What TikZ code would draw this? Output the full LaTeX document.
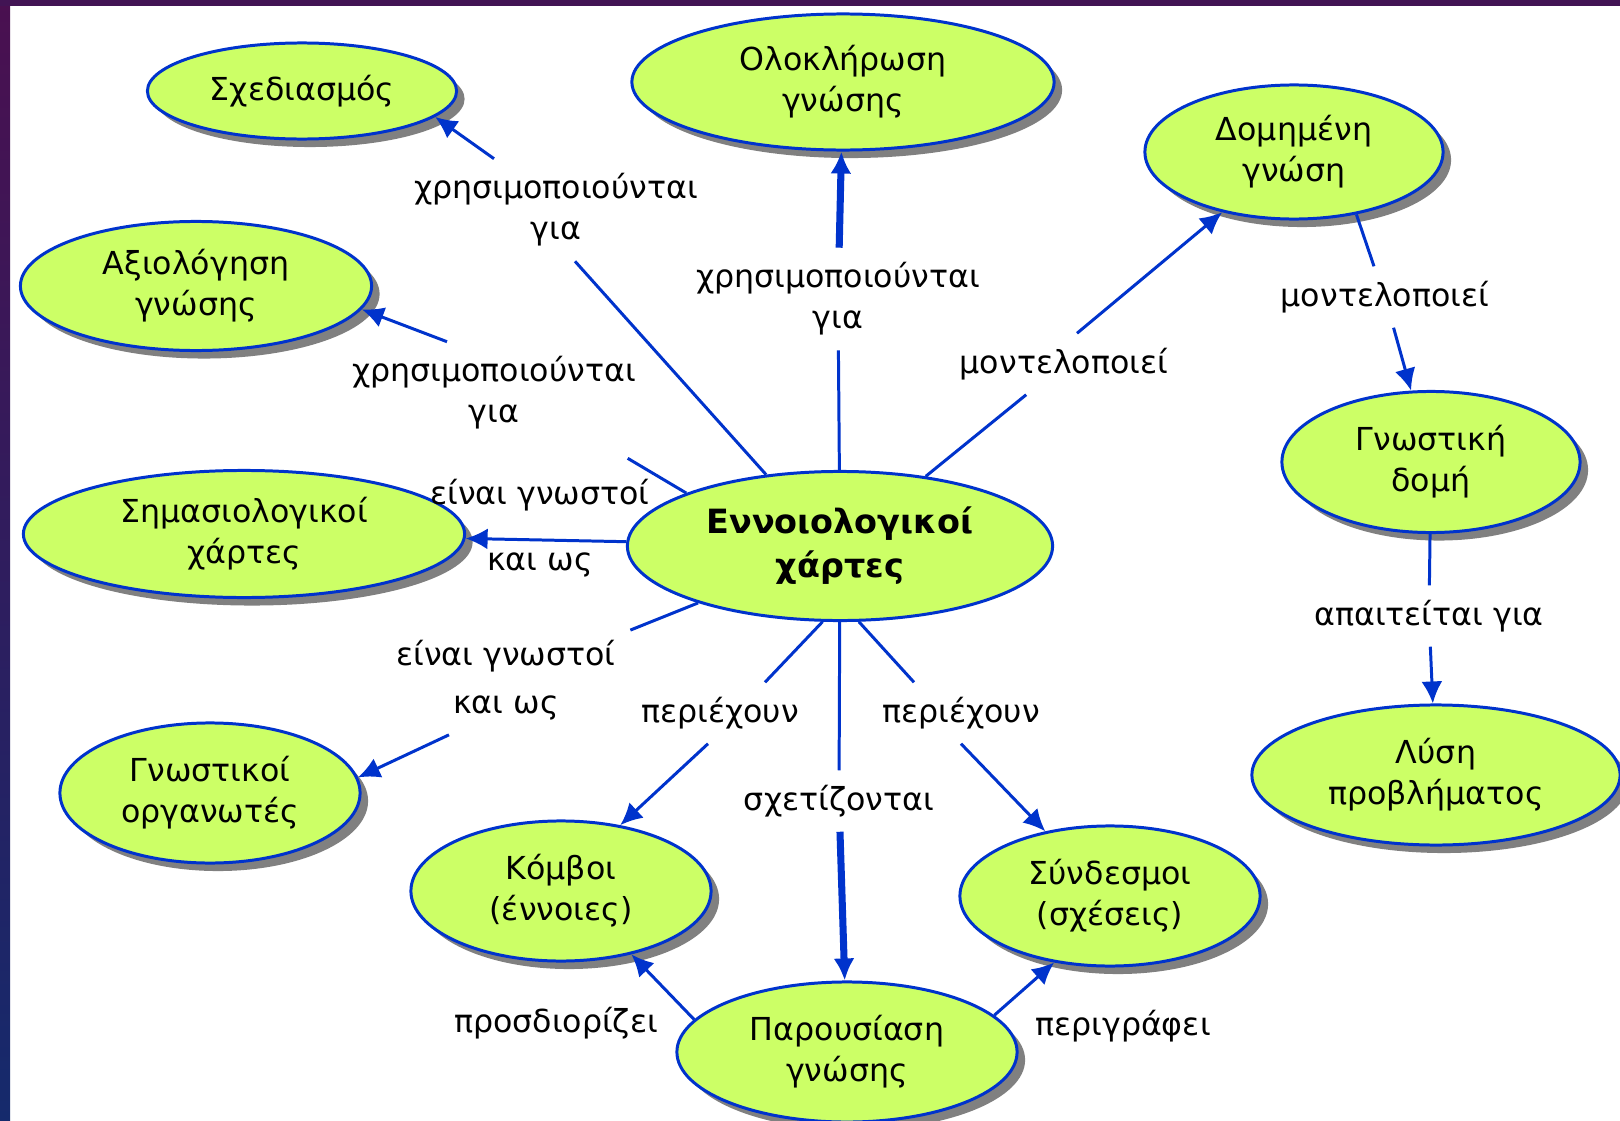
\documentclass[tikz,border=0pt]{standalone}
\usepackage{fontspec}
\setmainfont{DejaVu Sans}
\usepackage{tikz}
\usetikzlibrary{shapes.geometric, arrows.meta, shadows, calc}

\definecolor{mapgreen}{HTML}{CCFF66}
\definecolor{mapblue}{HTML}{0033CC}
\definecolor{mapshadow}{HTML}{808080}
\definecolor{framepurple}{HTML}{4A1050}
\definecolor{framenavy}{HTML}{152A6C}

\begin{document}
\begin{tikzpicture}[x=0.01cm, y=-0.01cm,
	line/.style = {draw=mapblue, line width=0.85pt},
	arrow/.style = {line, -{Latex[length=0.22cm, width=0.21cm]}},
	thickarrow/.style = {arrow, line width=2pt}]
	\tikzset{bubble/.style={ellipse, draw=mapblue, line width=0.85pt, fill=mapgreen, align=center, inner sep=0pt, font=\fontsize{9}{11.7}\selectfont}}
	\tikzset{concept/.style={bubble, drop shadow={shadow xshift=0.08cm, shadow yshift=-0.08cm, fill=mapshadow, opacity=1}}}
	\tikzset{link/.style={align=center, inner sep=4pt, font=\fontsize{9}{11.7}\selectfont}}

	% frame
	\useasboundingbox (0,0) rectangle (1620,1121);
	\fill[white] (0,0) rectangle (1620,1121);
	\shade[top color=framepurple, bottom color=framenavy] (0,0) rectangle (10,1121);
	\fill[framepurple!85!framenavy] (0,0) rectangle (1620,6);

	% concepts
	\node[bubble, minimum width=4.25cm, minimum height=1.49cm, font=\fontsize{9.5}{12.5}\selectfont\bfseries] (cmaps) at (840,546) {Εννοιολογικοί\\χάρτες};

	\node[concept, minimum width=3.09cm, minimum height=0.96cm] (design) at (302,91) {Σχεδιασμός};
	\node[concept, minimum width=4.22cm, minimum height=1.36cm] (integration) at (843,82) {Ολοκλήρωση\\γνώσης};
	\node[concept, minimum width=2.98cm, minimum height=1.34cm] (structured) at (1294,152) {Δομημένη\\γνώση};
	\node[concept, minimum width=3.51cm, minimum height=1.29cm] (assessment) at (196,286) {Αξιολόγηση\\γνώσης};
	\node[concept, minimum width=4.41cm, minimum height=1.27cm] (semantic) at (244,534) {Σημασιολογικοί\\χάρτες};
	\node[concept, minimum width=3.00cm, minimum height=1.40cm] (organisers) at (210,793) {Γνωστικοί\\οργανωτές};
	\node[concept, minimum width=3.00cm, minimum height=1.40cm] (nodes) at (561,891) {Κόμβοι\\(έννοιες)};
	\node[concept, minimum width=3.00cm, minimum height=1.40cm] (links) at (1110,896) {Σύνδεσμοι\\(σχέσεις)};
	\node[concept, minimum width=3.40cm, minimum height=1.40cm] (representation) at (847,1052) {Παρουσίαση\\γνώσης};
	\node[concept, minimum width=2.98cm, minimum height=1.41cm] (cogstruct) at (1431,462) {Γνωστική\\δομή};
	\node[concept, minimum width=3.68cm, minimum height=1.40cm] (solving) at (1436,775) {Λύση\\προβλήματος};

	% link labels
	\node[link] (useA) at (556,210) {χρησιμοποιούνται\\για};
	\node[link] (useB) at (838,299) {χρησιμοποιούνται\\για};
	\node[link] (useC) at (494,393) {χρησιμοποιούνται\\για};
	\node[link] (knownA) at (540,528) {είναι γνωστοί\\[7pt]και ως};
	\node[link] (knownB) at (506,680) {είναι γνωστοί\\[2pt]και ως};
	\node[link] (modelA) at (1064,364) {μοντελοποιεί};
	\node[link] (modelB) at (1385,297) {μοντελοποιεί};
	\node[link] (requires) at (1429,616) {απαιτείται για};
	\node[link] (containsA) at (720,713) {περιέχουν};
	\node[link] (containsB) at (961,713) {περιέχουν};
	\node[link] (relates) at (839,801) {σχετίζονται};
	\node[link] (specifies) at (556,1023) {προσδιορίζει};
	\node[link] (describes) at (1123,1026) {περιγράφει};

	% connectors
	\draw[line] (cmaps.136) -- ($(useA.south)+(19,0)$);
	\draw[arrow] ($(useA.north)+(-62,0)$) -- (design.-11);
	\draw[line] (cmaps.161) -- ($(useC.south east)+(-23,14)$);
	\draw[arrow] ($(useC.north)+(-47,0)$) -- (assessment.-8);
	\draw[line] (cmaps) -- (useB);
	\draw[thickarrow] (useB) -- (integration);
	\draw[arrow] (cmaps) -- (semantic);
	\draw[line] (cmaps) -- (knownB);
	\draw[arrow] ($(knownB.south)+(-57,0)$) -- (organisers.6);
	\draw[line] (cmaps) -- (modelA);
	\draw[arrow] ($(modelA.north)+(13,0)$) -- (structured.-140);
	\draw[line] (structured.-45) -- ($(modelB.north)+(-11,0)$);
	\draw[arrow] (modelB) -- (cogstruct);
	\draw[line] (cogstruct) -- (requires);
	\draw[arrow] (requires) -- (solving);
	\draw[line] (cmaps.-103) -- ($(containsA.north)+(45,0)$);
	\draw[arrow] ($(containsA.south)+(-12,0)$) -- (nodes.48);
	\draw[line] (cmaps.-76) -- ($(containsB.north)+(-47,0)$);
	\draw[arrow] (containsB.south) -- (links.135);
	\draw[line] (cmaps) -- (relates);
	\draw[thickarrow] (relates) -- (representation);
	\draw[arrow] (representation.168) -- (nodes.-42);
	\draw[arrow] (representation.14) -- (links.-130);
\end{tikzpicture}
\end{document}
